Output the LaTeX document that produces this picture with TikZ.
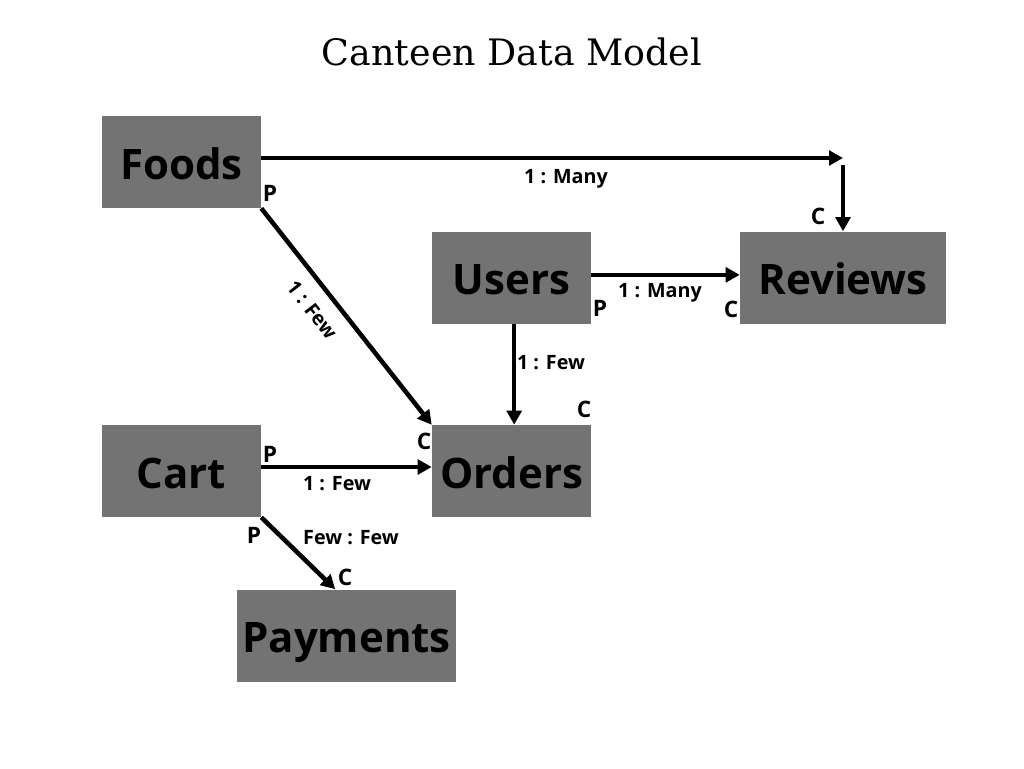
\documentclass[tikz,border=0pt]{standalone}
\usepackage{fontspec}
\setmainfont{Open Sans}
\newfontfamily\titlefont{DejaVu Serif}
\usetikzlibrary{arrows.meta}
\definecolor{boxgray}{HTML}{737373}
\begin{document}
\begin{tikzpicture}[x=0.75pt,y=-0.75pt,
  ent/.style={fill=boxgray,inner sep=0pt,minimum height=69pt,minimum width=119.25pt,
    text height=25.5pt,text depth=0pt,
    font=\fontsize{31.5}{36}\selectfont\bfseries,text=black},
  arr/.style={line width=3.4pt,-{Triangle[length=10.5pt,width=11pt]}},
  lbl/.style={font=\fontsize{14.8}{17}\selectfont\bfseries,inner sep=0pt},
  pc/.style={font=\fontsize{17}{20}\selectfont\bfseries,inner sep=0pt}]
\useasboundingbox (0,0) rectangle (1024,768);
\fill[white] (0,0) rectangle (1024,768);
\node[font=\titlefont\fontsize{27.3}{32}\selectfont,inner sep=0pt] (title) at (512,52) {Canteen Data Model};
\node[ent] (foods) at (181.5,162) {Foods};
\node[ent] (users) at (511.5,277.5) {Users};
\node[ent,minimum width=154.5pt] (reviews) at (843,277.5) {Reviews};
\node[ent] (cart) at (181.5,471) {Cart};
\node[ent] (orders) at (511.5,471) {Orders};
\node[ent,minimum width=164.25pt] (payments) at (346.5,635.5) {Payments};
\coordinate (fr) at (843,158);
\draw[arr] ([yshift=3pt]foods.east) -- (fr);
\draw[arr] ([yshift=-5pt]fr) -- (reviews.north);
\draw[arr] (foods.south east) -- (orders.north west);
\draw[arr] ([yshift=2pt]users.east) -- ([yshift=2pt]reviews.west);
\draw[arr] ([xshift=2pt]users.south) -- ([xshift=2pt]orders.north);
\draw[arr] ([yshift=3pt]cart.east) -- ([yshift=3pt]orders.west);
\draw[arr] (cart.south east) -- ([xshift=-8.5pt]payments.north);
\node[lbl] (l1) at (566,179) {1 : Many};
\node[lbl,rotate=-52] (l2) at (312,310) {1 : Few};
\node[lbl] (l3) at (660,293) {1 : Many};
\node[lbl] (l4) at (551,363) {1 : Few};
\node[lbl] (l5) at (337,484) {1 : Few};
\node[lbl] (l6) at (351,538) {Few : Few};
\node[pc] (p1) at (270,193) {P};
\node[pc] (c1) at (818,216) {C};
\node[pc] (p2) at (600,308) {P};
\node[pc] (c2) at (731,309) {C};
\node[pc] (c3) at (584,409) {C};
\node[pc] (c4) at (424,441) {C};
\node[pc] (p3) at (270,454) {P};
\node[pc] (p4) at (254,535) {P};
\node[pc] (c5) at (345,577) {C};
\end{tikzpicture}
\end{document}
